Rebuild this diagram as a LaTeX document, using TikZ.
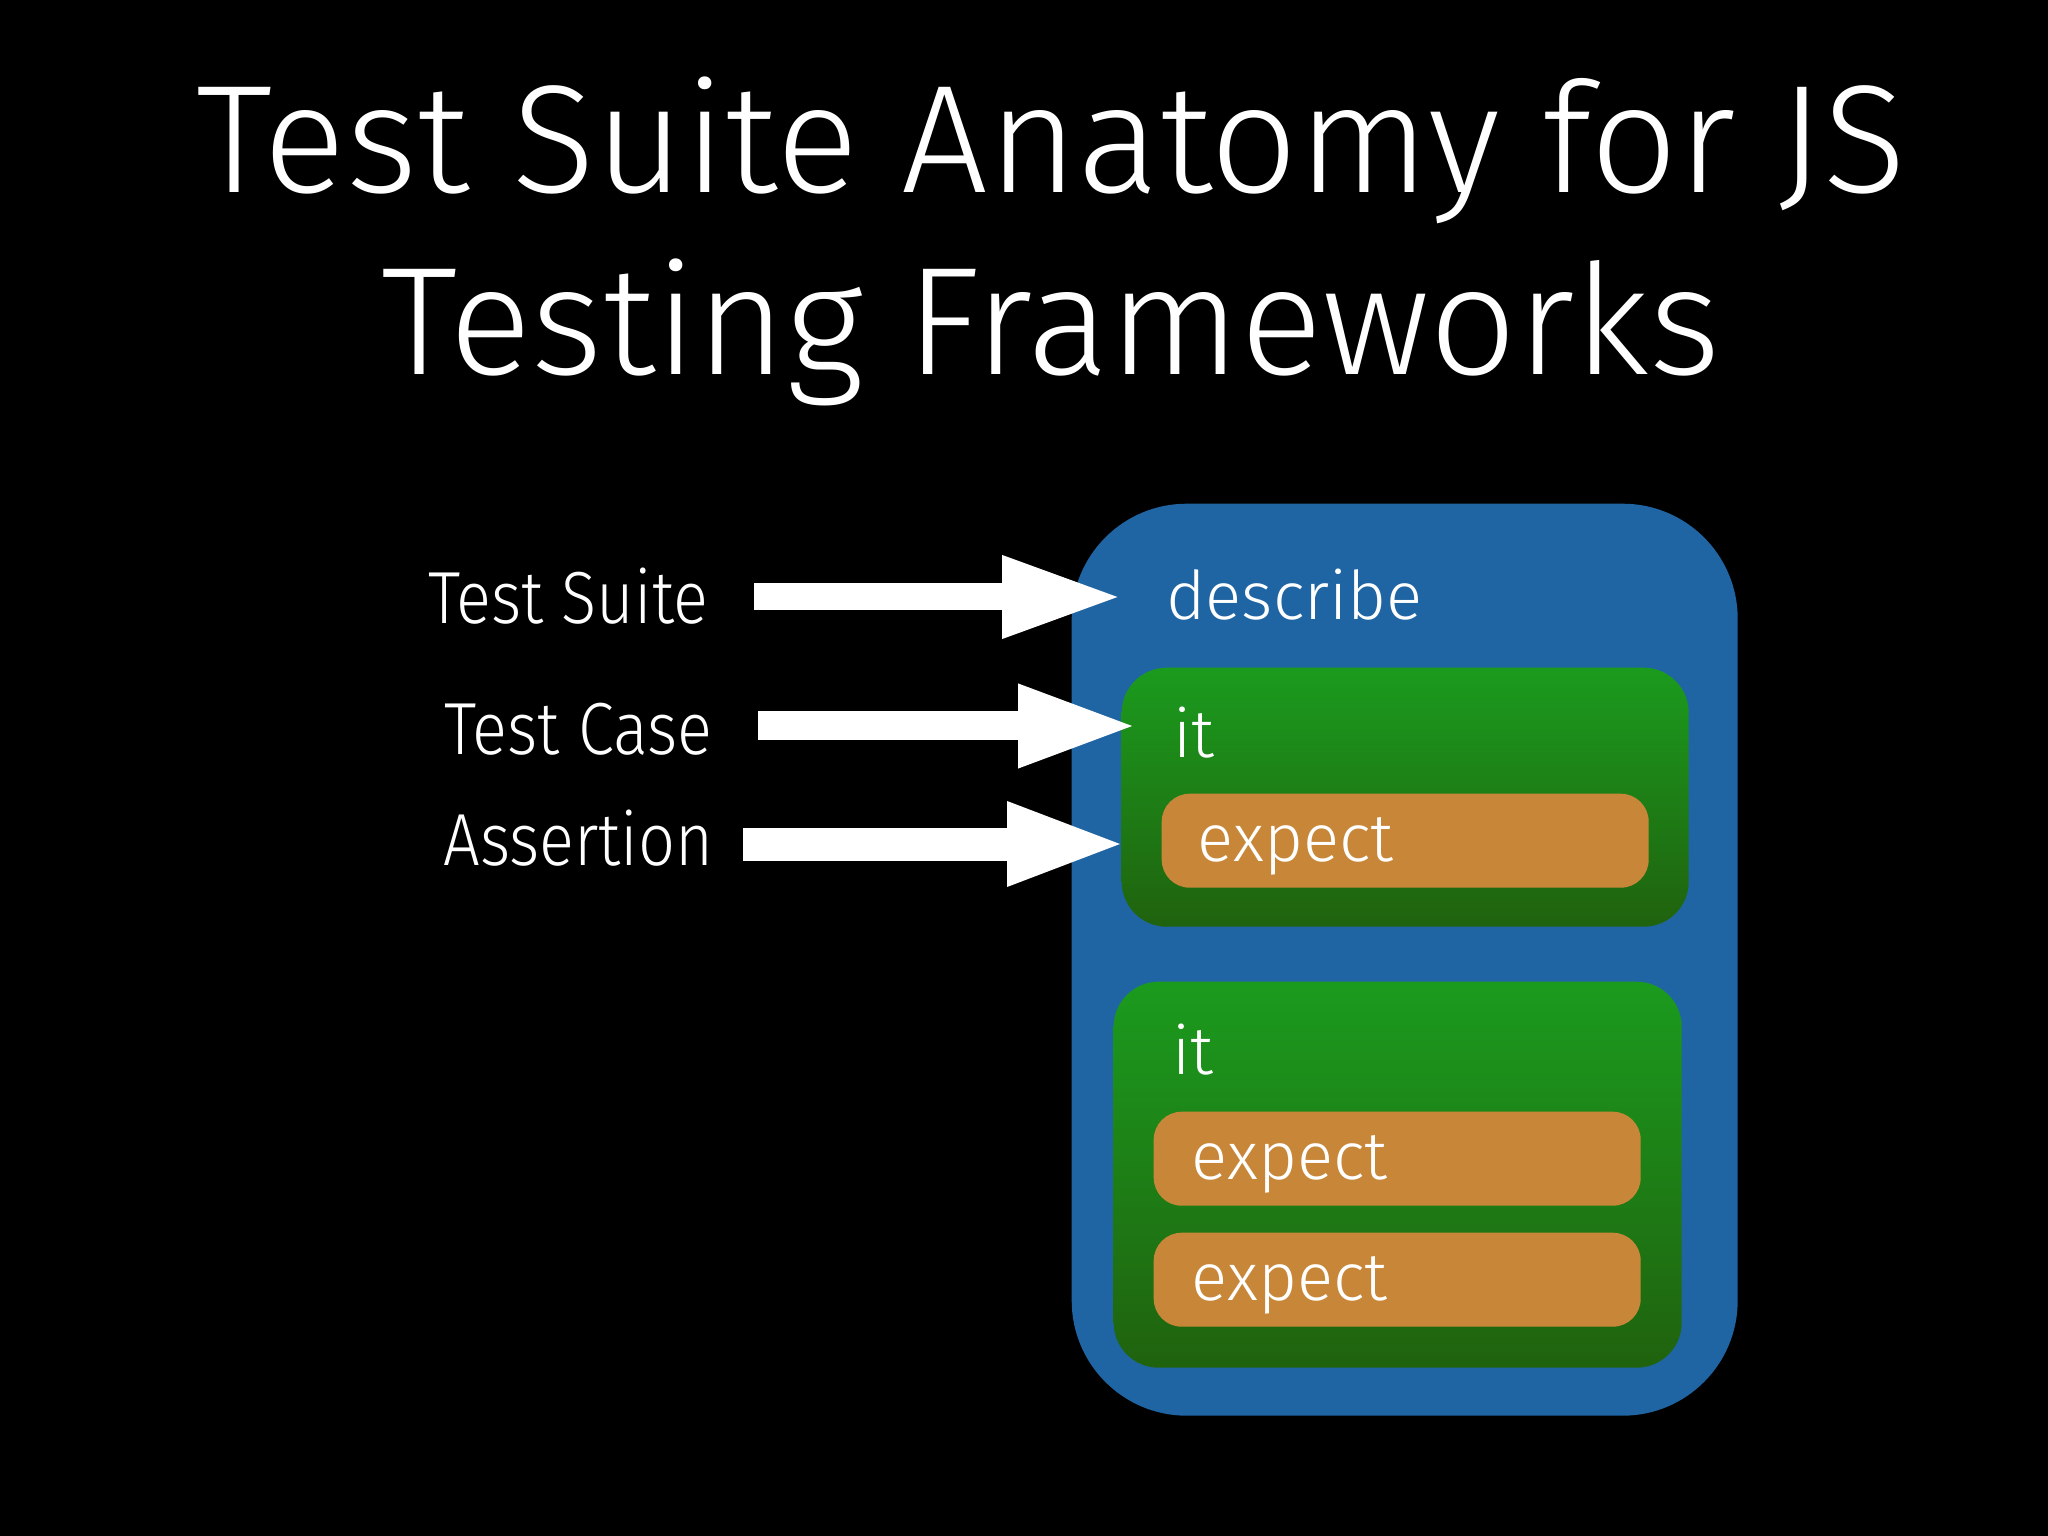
\documentclass[tikz,border=0pt]{standalone}
\usepackage{fontspec}
\setmainfont{Fira Sans}[UprightFont=* Light]
\usepackage{tikz}
\usetikzlibrary{arrows.meta, calc}

\definecolor{slideblue}{RGB}{32,101,163}
\definecolor{greentop}{RGB}{27,155,30}
\definecolor{greenbot}{RGB}{32,98,14}
\definecolor{boxorange}{RGB}{200,135,56}

\newcommand{\narrowtext}[1]{\scalebox{0.88}[1]{#1}}

\begin{document}
\begin{tikzpicture}[
		title/.style = {white, anchor = base, font = \fontsize{43.7}{50}\selectfont},
		lbl/.style = {white, anchor = base east, inner sep = 0pt, font = \fontsize{21}{24}\selectfont},
		code/.style = {white, anchor = base west, inner sep = 0pt, font = \fontsize{19.1}{22}\selectfont},
		suitebox/.style = {fill = slideblue, rounded corners = 1.15cm, anchor = north west, inner sep = 0pt},
		casebox/.style = {top color = greentop, bottom color = greenbot, rounded corners = 0.45cm, anchor = north west, inner sep = 0pt},
		assertbox/.style = {fill = boxorange, rounded corners = 0.28cm, anchor = north west, inner sep = 0pt, minimum width = 4.87cm, minimum height = 0.94cm},
		fatarrow/.style = {white, line width = #1, -{Triangle[length = 1.22cm, width = 0.75cm]}, shorten < = 0.45cm},
	]
		% slide
		\fill[black] (0,0) rectangle (20.48,-15.36);
		\useasboundingbox (0,0) rectangle (20.48,-15.36);
		
		\node [title] (title1) at (10.51,-1.93) {Test Suite Anatomy for JS};
		\node [title] (title2) at (10.51,-3.75) {Testing Frameworks};
		
		% nested blocks
		\node [suitebox, minimum width = 6.66cm, minimum height = 9.12cm] (suite) at (10.71,-5.03) {};
		\node [casebox, minimum width = 5.67cm, minimum height = 2.59cm] (case1) at (11.21,-6.67) {};
		\node [casebox, minimum width = 5.68cm, minimum height = 3.86cm] (case2) at (11.13,-9.81) {};
		\node [assertbox] (assert1) at (11.61,-7.93) {};
		\node [assertbox] (assert2) at (11.53,-11.11) {};
		\node [assertbox] (assert3) at (11.53,-12.32) {};
		
		\node [code] (describe) at (11.66,-6.20) {describe};
		\node [code] (it1) at (11.73,-7.57) {it};
		\node [code] (expect1) at (11.97,-8.62) {expect};
		\node [code] (it2) at (11.72,-10.74) {it};
		\node [code] (expect2) at (11.91,-11.79) {expect};
		\node [code] (expect3) at (11.91,-13.00) {expect};
		
		% labels and arrows
		\node [lbl] (lblSuite) at (7.09,-6.23) {\narrowtext{Test Suite}};
		\node [lbl] (lblCase) at (7.13,-7.54) {\narrowtext{Test Case}};
		\node [lbl] (lblAssert) at (7.14,-8.65) {\narrowtext{Assertion}};
		
		\coordinate (tipSuite) at (11.24,-5.97);
		\coordinate (tipCase) at (11.40,-7.26);
		\coordinate (tipAssert) at (11.29,-8.44);
		
		\draw [fatarrow = 0.27cm] (lblSuite.east |- tipSuite) -- (tipSuite);
		\draw [fatarrow = 0.29cm] (lblCase.east |- tipCase) -- (tipCase);
		\draw [fatarrow = 0.33cm, shorten < = 0.29cm] (lblAssert.east |- tipAssert) -- (tipAssert);
	\end{tikzpicture}
\end{document}
